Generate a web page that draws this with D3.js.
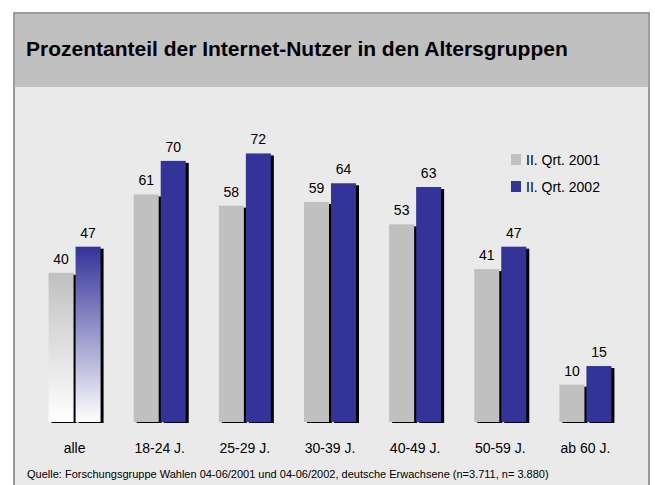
<!DOCTYPE html>
<html>
<head>
<meta charset="utf-8">
<script src="https://cdn.jsdelivr.net/npm/d3@7"></script>
<style>
  body { margin: 0; background: #fff; }
  svg { display: block; font-family: "Liberation Sans", Arial, sans-serif; }
</style>
</head>
<body>
<div class="chart"></div>
<script>
var categories = ["alle", "18-24 J.", "25-29 J.", "30-39 J.", "40-49 J.", "50-59 J.", "ab 60 J."];
var values2001 = [40, 61, 58, 59, 53, 41, 10];
var values2002 = [47, 70, 72, 64, 63, 47, 15];
var seriesNames = ["II. Qrt. 2001", "II. Qrt. 2002"];

var svgWidth = 655;
var svgHeight = 485;

var svg = d3.select(".chart")
    .append("svg")
    .attr("width", svgWidth)
    .attr("height", svgHeight);

var defs = svg.append("defs");
var gGray = defs.append("linearGradient").attr("id", "gradGray")
    .attr("x1", 0).attr("y1", 0).attr("x2", 0).attr("y2", 1);
gGray.append("stop").attr("offset", "0%").attr("stop-color", "#c0c0c0");
gGray.append("stop").attr("offset", "100%").attr("stop-color", "#ffffff");
var gBlue = defs.append("linearGradient").attr("id", "gradBlue")
    .attr("x1", 0).attr("y1", 0).attr("x2", 0).attr("y2", 1);
gBlue.append("stop").attr("offset", "0%").attr("stop-color", "#333399");
gBlue.append("stop").attr("offset", "100%").attr("stop-color", "#ffffff");

// frame + header
svg.append("rect")
    .attr("x", 14).attr("y", 13)
    .attr("width", 635).attr("height", 480)
    .attr("fill", "#eaeaea")
    .attr("stroke", "#7a7a7a")
    .attr("stroke-width", 1.5);
svg.append("rect")
    .attr("x", 14.75).attr("y", 13.75)
    .attr("width", 633.5).attr("height", 73.25)
    .attr("fill", "#c0c0c0");
svg.append("text")
    .attr("x", 26).attr("y", 56)
    .attr("font-size", "21px")
    .attr("font-weight", "bold")
    .attr("fill", "#000")
    .text("Prozentanteil der Internet-Nutzer in den Altersgruppen");

var xScale = d3.scaleBand().domain(categories).range([32, 628]);
var yScale = d3.scaleLinear().domain([0, 100]).range([422, 49]);

var data = categories.map(function (c, i) {
    return { cat: c, a: values2001[i], b: values2002[i], idx: i };
});

var barW = 25;
var chart = svg.append("g");

function center(d) { return xScale(d.cat) + xScale.bandwidth() / 2; }

// shadows + bars
chart.selectAll(".shadowA").data(data).enter().append("rect")
    .attr("x", function (d) { return center(d) - 26 + 3; })
    .attr("y", function (d) { return yScale(d.a) + 2; })
    .attr("width", barW)
    .attr("height", function (d) { return yScale(0) - yScale(d.a) - 1; })
    .attr("fill", "#000");
chart.selectAll(".barA").data(data).enter().append("rect")
    .attr("x", function (d) { return center(d) - 26; })
    .attr("y", function (d) { return yScale(d.a); })
    .attr("width", barW)
    .attr("height", function (d) { return yScale(0) - yScale(d.a); })
    .attr("fill", function (d) { return d.idx === 0 ? "url(#gradGray)" : "#c0c0c0"; });
chart.selectAll(".shadowB").data(data).enter().append("rect")
    .attr("x", function (d) { return center(d) + 1 + 3; })
    .attr("y", function (d) { return yScale(d.b) + 2; })
    .attr("width", barW)
    .attr("height", function (d) { return yScale(0) - yScale(d.b) - 1; })
    .attr("fill", "#000");
chart.selectAll(".barB").data(data).enter().append("rect")
    .attr("x", function (d) { return center(d) + 1; })
    .attr("y", function (d) { return yScale(d.b); })
    .attr("width", barW)
    .attr("height", function (d) { return yScale(0) - yScale(d.b); })
    .attr("fill", function (d) { return d.idx === 0 ? "url(#gradBlue)" : "#333399"; });

// value labels
chart.selectAll(".labA").data(data).enter().append("text")
    .attr("x", function (d) { return center(d) - 13.5; })
    .attr("y", function (d) { return yScale(d.a) - 9; })
    .attr("text-anchor", "middle")
    .attr("font-size", "14px")
    .text(function (d) { return d.a; });
chart.selectAll(".labB").data(data).enter().append("text")
    .attr("x", function (d) { return center(d) + 13.5; })
    .attr("y", function (d) { return yScale(d.b) - 9; })
    .attr("text-anchor", "middle")
    .attr("font-size", "14px")
    .text(function (d) { return d.b; });

// category labels
chart.selectAll(".cat").data(data).enter().append("text")
    .attr("x", function (d) { return center(d); })
    .attr("y", 453)
    .attr("text-anchor", "middle")
    .attr("font-size", "14px")
    .text(function (d) { return d.cat; });

// legend
var legColors = ["#c0c0c0", "#333399"];
var legend = svg.selectAll(".legend").data(seriesNames).enter().append("g")
    .attr("transform", function (d, i) { return `translate(511,${154 + i * 27})`; });
legend.append("rect")
    .attr("width", 10).attr("height", 11)
    .attr("fill", function (d, i) { return legColors[i]; });
legend.append("text")
    .attr("x", 15).attr("y", 11)
    .attr("font-size", "14px")
    .text(function (d) { return d; });

svg.append("text")
    .attr("x", 27).attr("y", 478)
    .attr("font-size", "11px")
    .attr("fill", "#000")
    .text("Quelle: Forschungsgruppe Wahlen 04-06/2001 und 04-06/2002, deutsche Erwachsene (n=3.711, n= 3.880)");
</script>
</body>
</html>
